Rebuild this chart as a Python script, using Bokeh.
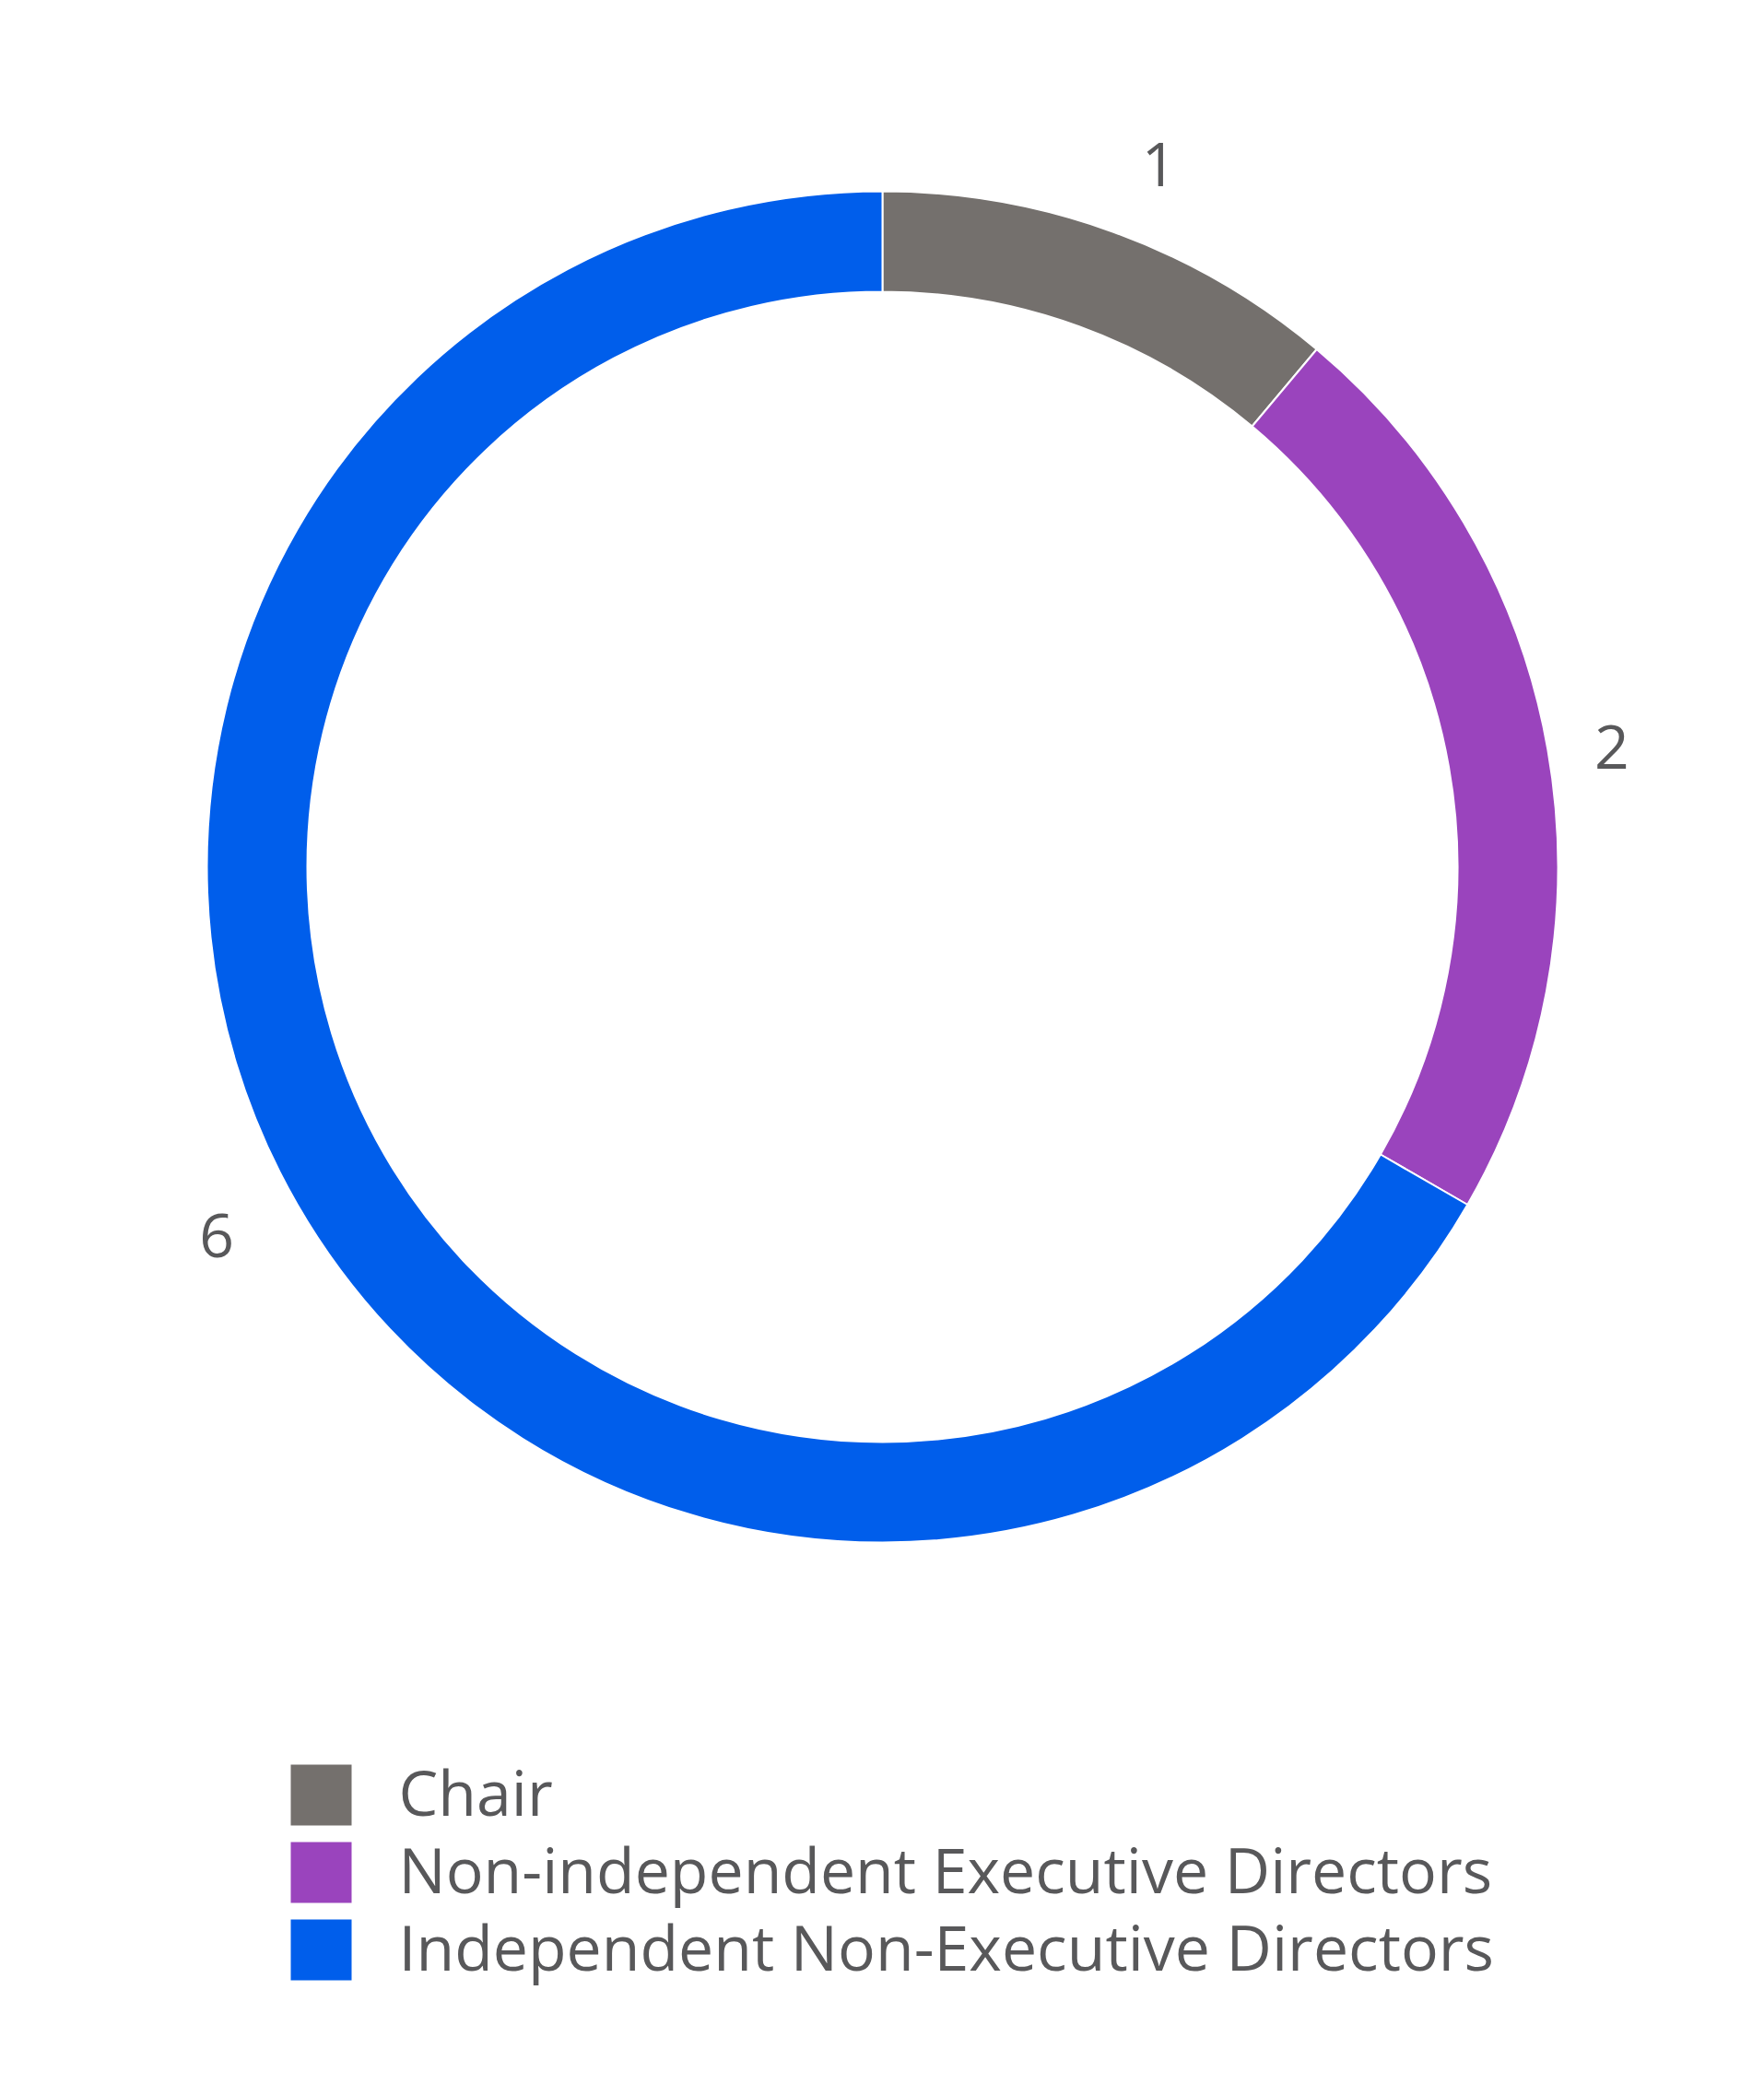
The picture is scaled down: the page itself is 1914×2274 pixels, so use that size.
import math
from bokeh.plotting import figure
from bokeh.models import ColumnDataSource, Range1d
from bokeh.core.properties import value
from bokeh.embed import file_html
from bokeh.resources import INLINE

# ---- data ----
categories = ["Chair", "Non-independent Executive Directors", "Independent Non-Executive Directors"]
counts = [1, 2, 6]
colors = ["#74706d", "#9a44bd", "#005eeb"]

# ---- layout ----
W, H = 1898, 2258
CX, CY = 957, H - 940          # donut centre in data coords (y up)
R_OUT, R_IN = 733, 624
FONT = "Open Sans"
TXT = "#58585a"
FS = "68px"
FS_LBL = "66px"

p = figure(width=W, height=H, output_backend="svg", toolbar_location=None,
           x_range=Range1d(0, W), y_range=Range1d(0, H),
           min_border=0, outline_line_color=None)
p.axis.visible = False
p.grid.visible = False
p.background_fill_color = "white"

total = sum(counts)
starts, ends, mids = [], [], []
cum = 0
for c in counts:
    a0 = math.pi / 2 - 2 * math.pi * cum / total
    cum += c
    a1 = math.pi / 2 - 2 * math.pi * cum / total
    starts.append(a0)
    ends.append(a1)
    mids.append((a0 + a1) / 2)

src = ColumnDataSource(dict(x=[CX] * len(counts), y=[CY] * len(counts),
                            start=starts, end=ends, color=colors))
p.annular_wedge(x="x", y="y", inner_radius=R_IN, outer_radius=R_OUT,
                start_angle="start", end_angle="end", direction="clock",
                fill_color="color", line_color="white", line_width=2, source=src)

# value labels outside ring (angle tweaks in degrees, radius)
label_shift_deg = [-1.5, -0.7, -1.0]
label_r = [819, 802, 826]
lx, ly, lt = [], [], []
for m, d, r, c in zip(mids, label_shift_deg, label_r, counts):
    a = m + math.radians(d)
    lx.append(CX + r * math.cos(a))
    ly.append(CY + r * math.sin(a))
    lt.append(str(c))
p.text(x=lx, y=ly, text=lt, text_font=value(FONT), text_font_size=FS_LBL,
       text_color=TXT, text_align="center", text_baseline="middle")

# legend
SQ_X0, SQ = 315, 66
ROW0_Y = 1947
ROW_DY = 84
TXT_DY = 4
rx, ry, ty, tx = [], [], [], []
for i in range(len(categories)):
    yc = H - (ROW0_Y + i * ROW_DY)
    rx.append(SQ_X0 + SQ / 2)
    ry.append(yc)
    ty.append(yc + TXT_DY)
    tx.append(432)
p.rect(x=rx, y=ry, width=SQ, height=SQ, fill_color=colors, line_color=None)
p.text(x=tx, y=ty, text=categories, text_font=value(FONT), text_font_size=FS,
       text_color=TXT, text_align="left", text_baseline="middle")

open("out.html", "w").write(file_html(p, INLINE))
